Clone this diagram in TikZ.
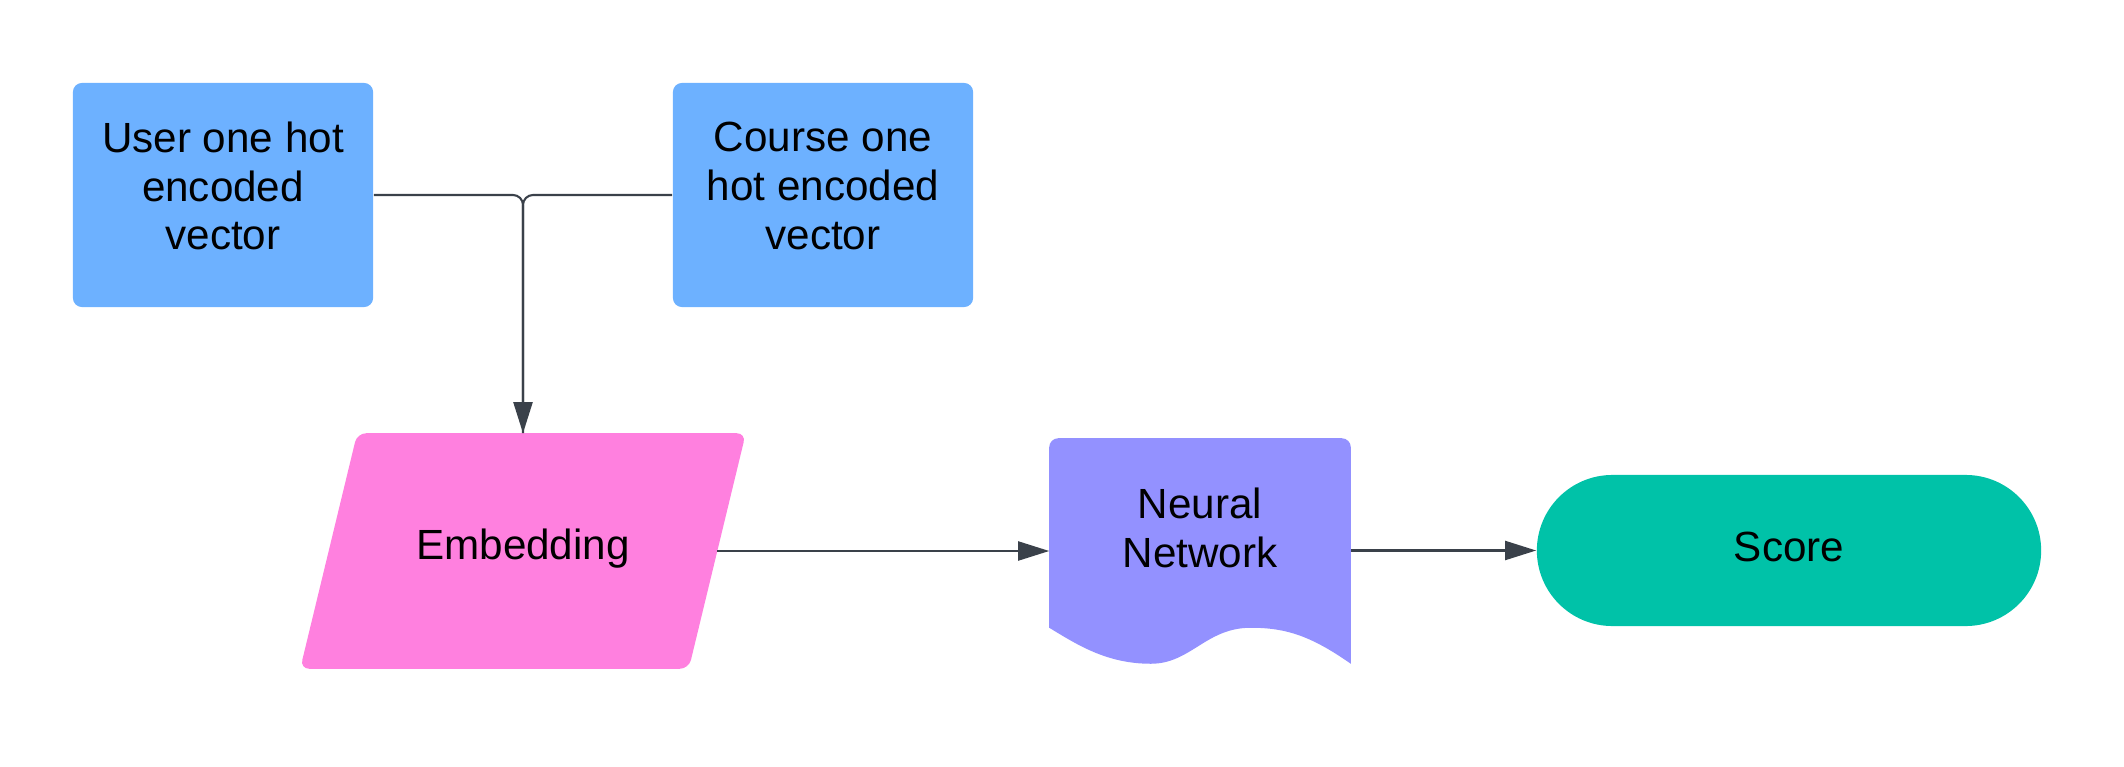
\documentclass[tikz,border=0pt]{standalone}
\usepackage{fontspec}
\setmainfont{Liberation Sans}
\usetikzlibrary{arrows.meta,shapes.misc,backgrounds,calc}
\definecolor{boxblue}{HTML}{6DB1FF}
\definecolor{boxpink}{HTML}{FF80DF}
\definecolor{boxpurple}{HTML}{9391FF}
\definecolor{boxgreen}{HTML}{00C2A8}
\definecolor{linegray}{HTML}{3A414A}
\tikzset{
  inbox/.style={rectangle, fill=boxblue, rounded corners=0.09cm, minimum width=3cm, minimum height=2.24cm, inner sep=0pt},
  txt/.style={font=\fontsize{12}{13.9}\selectfont, text=black, align=center, inner sep=0pt},
  conn/.style={draw=linegray, line width=0.6pt},
  tip/.style={-{Triangle[length=3.1mm, width=1.9mm]}}
}
\begin{document}
\begin{tikzpicture}[x=0.01cm, y=-0.01cm]
\useasboundingbox (0,0) rectangle (2124,767);
\node[inbox] (user) at (223,195) {};
\node[txt] (usertext) at ($(user.center)+(0,-9)$) {User one hot\\encoded\\vector};
\node[inbox] (course) at (823,195) {};
\node[txt] (coursetext) at ($(course.center)+(0,-9)$) {Course one\\hot encoded\\vector};
\node[rectangle, minimum width=3.87cm, minimum height=2.34cm, inner sep=0pt] (emb) at (523,551) {};
\node[txt] (embtext) at ($(emb.center)+(0,-2)$) {Embedding};
\node[rectangle, minimum width=3cm, minimum height=1.88cm, inner sep=0pt] (nn) at (1200,533) {};
\node[txt] (nntext) at ($(nn.center)+(0,-5)$) {Neural\\Network};
\node[rounded rectangle, fill=boxgreen, minimum width=5.04cm, minimum height=1.51cm, inner sep=0pt] (score) at (1789,550.5) {};
\node[txt] (scoretext) at ($(score.center)+(0,-4)$) {Score};
\begin{scope}[on background layer]
\fill[boxpink, rounded corners=0.09cm] ($(emb.north west)+(28.5,0)$) -- ($(emb.north east)+(28.5,0)$) -- ($(emb.south east)+(-28.5,0)$) -- ($(emb.south west)+(-28.5,0)$) -- cycle;
\fill[boxpurple] (nn.south west) [rounded corners=0.09cm] -- (nn.north west) -- (nn.north east) [sharp corners] -- ($(nn.south east)+(0,36)$)
  .. controls ($(nn.south east)+(-40,8)$) and ($(nn.south east)+(-65,0)$) .. ($(nn.south east)+(-100,0)$)
  .. controls ($(nn.south east)+(-145,0)$) and ($(nn.south east)+(-160,36)$) .. ($(nn.south east)+(-200,36)$)
  .. controls ($(nn.south east)+(-245,36)$) and ($(nn.south east)+(-275,16)$) .. (nn.south west) -- cycle;
\end{scope}
\draw[conn, rounded corners=0.1cm] (user.east) -| (emb.north);
\draw[conn, tip, rounded corners=0.1cm] (course.west) -| (emb.north);
\draw[conn, tip] (emb.east) -- (emb.east -| nn.west);
\draw[conn, tip] (nn.east |- score.west) -- (score.west);
\end{tikzpicture}
\end{document}
